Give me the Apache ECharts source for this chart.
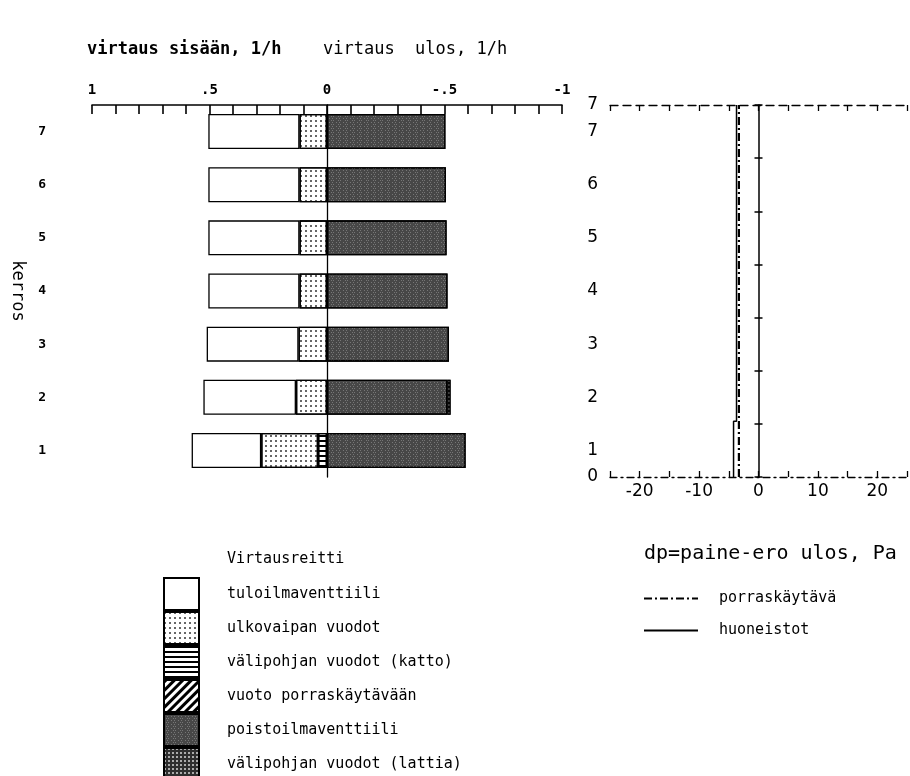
<!DOCTYPE html>
<html><head><meta charset="utf-8">
<script src="https://cdn.jsdelivr.net/npm/echarts@6/dist/echarts.min.js"></script>
<style>html,body{margin:0;padding:0;background:#fff}#c{width:910px;height:776px}</style>
</head><body><div id="c"></div>
<script>
// ---- data ----
const floors = ['1', '2', '3', '4', '5', '6', '7'];
const tuloilma = [0.296, 0.394, 0.391, 0.388, 0.388, 0.388, 0.388];
const ulkovaipan = [0.242, 0.132, 0.121, 0.117, 0.117, 0.117, 0.117];
const katto = [0.038, null, null, null, null, null, null];
const vuotoPorras = [null, null, null, null, null, null, null];
const poisto = [-0.590, -0.512, -0.519, -0.513, -0.509, -0.506, -0.504];
const lattia = [null, -0.014, null, null, null, null, null];
const flowTickLabels = { '10': '1', '5': '.5', '0': '0', '-5': '-.5', '-10': '-1' };
const porrasDp = [[-3.3, 0], [-3.3, 7]];
const huoneDp = [[-4.2, 0], [-4.2, 1.05], [-3.7, 1.05], [-3.7, 7]];
const dpTickLabels = ['-20', '-10', '0', '10', '20'];
const names = ['tuloilmaventtiili', 'ulkovaipan vuodot', 'välipohjan vuodot (katto)',
  'vuoto porraskäytävään', 'poistoilmaventtiili', 'välipohjan vuodot (lattia)'];
const lineNames = ['porraskäytävä', 'huoneistot'];

const mono = '"DejaVu Sans Mono", "Liberation Mono", monospace';
const sans = '"DejaVu Sans", sans-serif';
const border = { borderColor: '#000', borderWidth: 1.3 };

const chart = echarts.init(document.getElementById('c'), null, { renderer: 'canvas' });

function bar(name, data, itemStyle) {
  return { name, type: 'bar', stack: 'a', data, barWidth: 35, xAxisIndex: 0, yAxisIndex: 0,
    itemStyle: Object.assign({}, border, itemStyle) };
}

const option = {
  backgroundColor: '#fff',
  animation: false,
  title: [
    { text: 'virtaus sisään, 1/h', left: 82, top: 36, textStyle: { fontFamily: mono, fontSize: 17, fontWeight: 'bold', color: '#000' } },
    { text: 'virtaus  ulos, 1/h', left: 318, top: 36, textStyle: { fontFamily: mono, fontSize: 17, fontWeight: 'normal', color: '#000' } },
    { text: 'Virtausreitti', left: 222, top: 547, textStyle: { fontFamily: mono, fontSize: 15, fontWeight: 'normal', color: '#000' } },
    { text: 'dp=paine-ero ulos, Pa', left: 639, top: 539, textStyle: { fontFamily: mono, fontSize: 20, fontWeight: 'normal', color: '#000' } }
  ],
  grid: [
    { left: 92, width: 470, top: 105, height: 372 },
    { left: 610, width: 305, top: 105, height: 372 }
  ],
  xAxis: [
    { gridIndex: 0, type: 'value', position: 'top', inverse: true, min: -1, max: 1, interval: 0.1,
      axisLine: { show: true, onZero: false, lineStyle: { color: '#000', width: 1.6 } },
      axisTick: { show: true, inside: true, length: 9, lineStyle: { color: '#000', width: 1.6 } },
      splitLine: { show: false },
      axisLabel: { margin: 8, color: '#000', fontFamily: mono, fontSize: 14, fontWeight: 'bold',
        formatter: v => { const k = String(Math.round(v * 10)); return flowTickLabels[k] !== undefined ? flowTickLabels[k] : ''; } } },
    { gridIndex: 1, type: 'value', position: 'bottom', min: -25, max: 25, interval: 5,
      axisLine: { show: true, onZero: false, lineStyle: { color: '#000', width: 1.3, type: [7, 4, 2, 4] } },
      axisTick: { show: true, inside: true, length: 6, lineStyle: { color: '#000', width: 1.3 } },
      splitLine: { show: false },
      axisLabel: { margin: 6, color: '#000', fontFamily: sans, fontSize: 17,
        formatter: v => (v % 10 === 0 && Math.abs(v) <= 20) ? dpTickLabels[(v + 20) / 10] : '' } },
    { gridIndex: 1, type: 'value', position: 'top', min: -25, max: 25, interval: 5,
      axisLine: { show: true, onZero: false, lineStyle: { color: '#000', width: 1.3, type: [8, 5] } },
      axisTick: { show: true, inside: true, length: 6, lineStyle: { color: '#000', width: 1.3 } },
      splitLine: { show: false }, axisLabel: { show: false } }
  ],
  yAxis: [
    { gridIndex: 0, type: 'category', data: floors, name: 'kerros', nameLocation: 'middle', nameRotate: -90, nameGap: 66,
      nameTextStyle: { fontFamily: mono, fontSize: 17, color: '#000' },
      axisLine: { show: false, onZero: false }, axisTick: { show: false },
      axisLabel: { margin: 46, color: '#000', fontFamily: mono, fontSize: 13, fontWeight: 'bold' } },
    { gridIndex: 0, type: 'category', data: floors,
      axisLine: { show: true, onZero: true, lineStyle: { color: '#000', width: 1.3 } }, axisTick: { show: false }, axisLabel: { show: false } },
    { gridIndex: 1, type: 'value', min: 0, max: 7, interval: 0.5,
      axisLine: { show: false, onZero: false }, axisTick: { show: false }, splitLine: { show: false },
      axisLabel: { margin: 12, color: '#000', fontFamily: sans, fontSize: 17,
        formatter: v => { if (v === 0) return '0'; if (v === 7) return '7'; if (v % 1 === 0.5) return String(v + 0.5); return ''; } } },
    { gridIndex: 1, type: 'value', min: 0, max: 7, interval: 1,
      axisLine: { show: true, onZero: true, onZeroAxisIndex: 1, lineStyle: { color: '#000', width: 1.5 } },
      axisTick: { show: true, inside: false, length: 4, lineStyle: { color: '#000', width: 1.5 } }, splitLine: { show: false }, axisLabel: { show: false } },
    { gridIndex: 1, type: 'value', min: 0, max: 7, interval: 1,
      axisLine: { show: false, onZero: true, onZeroAxisIndex: 1 },
      axisTick: { show: true, inside: true, length: 4, lineStyle: { color: '#000', width: 1.5 } }, splitLine: { show: false }, axisLabel: { show: false } }
  ],
  legend: [
    { data: names, orient: 'vertical', left: 163, top: 577, height: 240, padding: 0, itemWidth: 35, itemHeight: 32, itemGap: 0,
      icon: 'rect', selectedMode: false,
      textStyle: { fontFamily: mono, fontSize: 15, color: '#000', padding: [0, 0, 0, 23] } },
    { data: lineNames, orient: 'vertical', left: 643, top: 591, padding: 0, itemWidth: 54, itemHeight: 12, itemGap: 17,
      selectedMode: false,
      itemStyle: { color: 'rgba(0,0,0,0)', borderColor: 'rgba(0,0,0,0)', borderWidth: 0 },
      textStyle: { fontFamily: mono, fontSize: 15, color: '#000', padding: [0, 0, 0, 16] } }
  ],
  series: [
    bar(names[2], katto, { color: '#fff', decal: { symbol: 'rect', color: '#000', dashArrayX: [1, 0], dashArrayY: [1.5, 2.5], symbolSize: 1, rotation: 0 } }),
    bar(names[1], ulkovaipan, { color: '#fff', decal: { symbol: 'rect', color: '#000', dashArrayX: [2, 2.5], dashArrayY: [2, 2.5], symbolSize: 0.8, rotation: 0 } }),
    bar(names[0], tuloilma, { color: '#fff' }),
    bar(names[3], vuotoPorras, { color: '#fff', decal: { symbol: 'rect', color: '#000', dashArrayX: [1, 0], dashArrayY: [3, 3], symbolSize: 1, rotation: -Math.PI / 4 } }),
    bar(names[4], poisto, { color: '#474747', decal: { symbol: 'rect', color: 'rgba(150,150,150,0.6)', dashArrayX: [[1, 2, 1, 3], [0, 2, 1, 1, 1, 2]], dashArrayY: [1, 1], symbolSize: 1, rotation: 0 } }),
    bar(names[5], lattia, { color: '#2e2e2e', decal: { symbol: 'rect', color: '#fff', dashArrayX: [2, 2], dashArrayY: [2, 2], symbolSize: 0.8, rotation: 0 } }),
    { name: lineNames[0], type: 'line', xAxisIndex: 1, yAxisIndex: 2, data: porrasDp, symbol: 'none',
      lineStyle: { color: '#000', width: 2.2, type: [8, 3, 2, 3] }, itemStyle: { color: '#000' } },
    { name: lineNames[1], type: 'line', xAxisIndex: 1, yAxisIndex: 2, data: huoneDp, symbol: 'none',
      lineStyle: { color: '#000', width: 1.5, type: 'solid' }, itemStyle: { color: '#000' } }
  ]
};
chart.setOption(option);
</script>
</body></html>
